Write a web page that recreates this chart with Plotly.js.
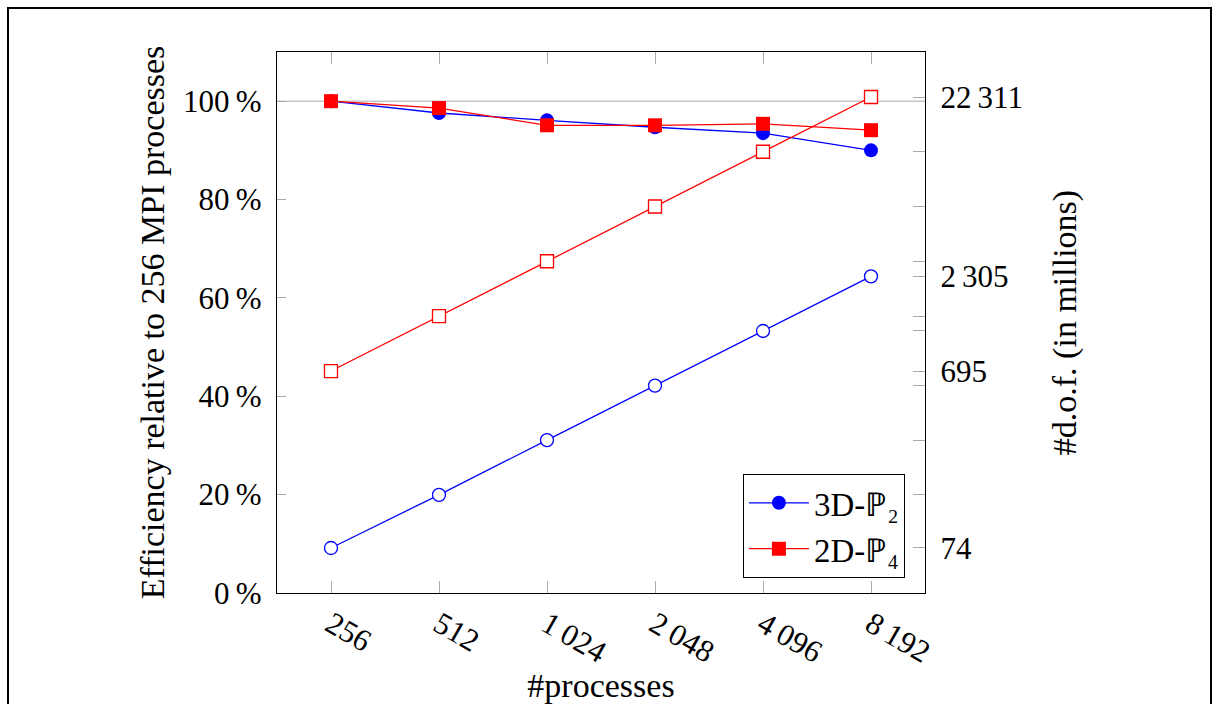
<!DOCTYPE html>
<html>
<head>
<meta charset="utf-8">
<script src="https://cdn.plot.ly/plotly-3.0.1.min.js"></script>
<style>
  html, body { margin: 0; padding: 0; background: #fff; }
  #wrap { position: relative; width: 1216px; height: 704px; overflow: hidden; }
  #chart { position: absolute; left: 0; top: 0; width: 1216px; height: 704px; }
  #frame { position: absolute; left: 7px; top: 7px; width: 1201px; height: 760px; border: 2px solid #000; pointer-events: none; }
</style>
</head>
<body>
<div id="wrap">
  <div id="chart"></div>
  <div id="frame"></div>
</div>
<script>
// Data
const processes = ["256", "512", "1\u2009024", "2\u2009048", "4\u2009096", "8\u2009192"];
const eff3D = [100, 97.6, 96.1, 94.7, 93.5, 90.0];
const eff2D = [100, 98.6, 95.1, 95.1, 95.4, 94.1];
const dof3D = [74, 145, 290, 578, 1154, 2305];
const dof2D = [695, 1393, 2790, 5580, 11160, 22311];
const effTicks = [0, 20, 40, 60, 80, 100];
const effTickLabels = ["0\u2009%", "20\u2009%", "40\u2009%", "60\u2009%", "80\u2009%", "100\u2009%"];
const dofLabeled = [74, 695, 2305, 22311];
const dofLabels = ["74", "695", "2\u2009305", "22\u2009311"];
const dofUnlabeled = [145, 290, 578, 1154, 1393, 2790, 5580, 11160];
const seriesNames = ["3D-\u2119\u2082", "2D-\u2119\u2084"];

const FONT = "Liberation Serif, Times New Roman, serif";
const BLUE = "#0000ff";
const RED = "#ff0000";
const TICK = 31;
const TITLE = 34;

const traces = [
  {
    x: processes, y: dof3D, yaxis: "y2", type: "scatter", mode: "lines+markers",
    showlegend: false,
    line: {color: BLUE, width: 1.3},
    marker: {symbol: "circle", size: 13, color: "#ffffff", line: {color: BLUE, width: 1.3}}
  },
  {
    x: processes, y: dof2D, yaxis: "y2", type: "scatter", mode: "lines+markers",
    showlegend: false,
    line: {color: RED, width: 1.3},
    marker: {symbol: "square", size: 13, color: "#ffffff", line: {color: RED, width: 1.3}}
  },
  {
    x: processes, y: eff3D, type: "scatter", mode: "lines+markers",
    name: seriesNames[0],
    line: {color: BLUE, width: 1.3},
    marker: {symbol: "circle", size: 14, color: BLUE}
  },
  {
    x: processes, y: eff2D, type: "scatter", mode: "lines+markers",
    name: seriesNames[1],
    line: {color: RED, width: 1.3},
    marker: {symbol: "square", size: 14, color: RED}
  }
];

const layout = {
  width: 1216, height: 704,
  margin: {l: 277, r: 291, t: 52, b: 111, pad: 0},
  paper_bgcolor: "rgba(0,0,0,0)",
  plot_bgcolor: "#ffffff",
  font: {family: FONT, size: TICK, color: "#000"},
  showlegend: true,
  legend: {
    x: 0.969, y: 0.028, xanchor: "right", yanchor: "bottom",
    bgcolor: "#ffffff", bordercolor: "#000", borderwidth: 1,
    font: {family: FONT, size: 33}, itemwidth: 60, tracegroupgap: 0
  },
  xaxis: {
    type: "category", range: [-0.5, 5.5],
    showgrid: false, zeroline: false,
    showline: true, linecolor: "#000", linewidth: 1.2, mirror: "ticks",
    ticks: "inside", ticklen: 12, tickcolor: "#aaaaaa", tickwidth: 1,
    tickangle: 30, tickfont: {family: FONT, size: TICK},
    title: {text: "#processes", font: {family: FONT, size: TITLE}, standoff: 6}
  },
  yaxis: {
    range: [0, 110], showgrid: false, zeroline: false,
    showline: true, linecolor: "#000", linewidth: 1.2, mirror: true,
    tickmode: "array", tickvals: effTicks, ticktext: effTickLabels,
    ticks: "inside", ticklen: 9, tickcolor: "#aaaaaa", tickwidth: 1,
    ticklabelstandoff: 8,
    tickfont: {family: FONT, size: TICK},
    title: {text: "Efficiency relative to 256 MPI processes", font: {family: FONT, size: TITLE}, standoff: 8}
  },
  yaxis2: {
    type: "log", overlaying: "y", side: "right",
    range: [1.6218, 4.5959], showgrid: false, zeroline: false,
    showline: true, linecolor: "#000", linewidth: 1.2,
    tickmode: "array", tickvals: dofLabeled, ticktext: dofLabels,
    ticks: "inside", ticklen: 12, tickcolor: "#aaaaaa", tickwidth: 1,
    ticklabelstandoff: 8,
    minor: {tickmode: "array", tickvals: dofUnlabeled, ticks: "inside", ticklen: 12, tickcolor: "#aaaaaa", tickwidth: 1, showgrid: false},
    tickfont: {family: FONT, size: TICK},
    title: {text: "#d.o.f. (in millions)", font: {family: FONT, size: TITLE}, standoff: 30}
  },
  shapes: [
    {type: "line", xref: "paper", yref: "y", x0: 0, x1: 1, y0: 100, y1: 100,
     line: {color: "#aaaaaa", width: 1}, layer: "below"}
  ]
};

Plotly.newPlot("chart", traces, layout, {displayModeBar: false, staticPlot: true});
</script>
</body>
</html>
